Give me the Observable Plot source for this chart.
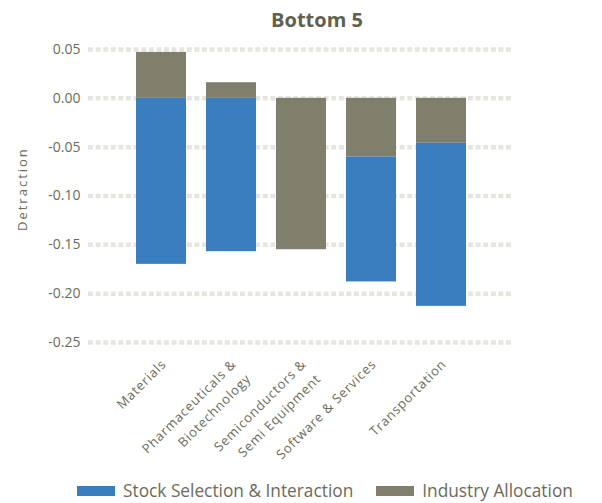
<!DOCTYPE html>
<html>
<head>
<meta charset="utf-8">
<script src="https://cdn.jsdelivr.net/npm/d3@7"></script>
<script src="https://cdn.jsdelivr.net/npm/@observablehq/plot@0.6"></script>
<style>
  html, body { margin: 0; padding: 0; background: #fff; }
  #wrap { position: relative; width: 602px; height: 503px; font-family: "Open Sans", sans-serif; overflow: hidden; }
  #title { position: absolute; top: 6px; left: 0; width: 634px; text-align: center; font-size: 20px; font-weight: bold; color: #5f604d; }
  #chart { position: absolute; top: 0; left: 0; }
  #legend { position: absolute; top: 479px; left: 77px; display: flex; align-items: center; font-size: 17.3px; color: #6b6b5a; white-space: nowrap; }
  .sw { width: 38px; height: 10px; display: inline-block; margin-right: 8px; }
  .item { display: flex; align-items: center; margin-right: 23px; }
</style>
</head>
<body>
<div id="wrap">
  <div id="chart"></div>
  <div id="title">Bottom 5</div>
  <div id="legend"></div>
</div>
<script>
const categories = ["Materials", "Pharmaceuticals & Biotechnology", "Semiconductors & Semi Equipment", "Software & Services", "Transportation"];
const categoryLabels = ["Materials", "Pharmaceuticals &\nBiotechnology", "Semiconductors &\nSemi Equipment", "Software & Services", "Transportation"];
const stockSelection = [-0.170, -0.157, 0.000, -0.128, -0.167];
const industryAllocation = [0.047, 0.016, -0.155, -0.060, -0.046];
const seriesNames = ["Stock Selection & Interaction", "Industry Allocation"];
const seriesColors = ["#3a7ec0", "#7f7f6b"];
const yTicks = [0.05, 0.00, -0.05, -0.10, -0.15, -0.20, -0.25];
const yTitle = "Detraction";

const rows = [];
categories.forEach((c, i) => rows.push({category: c, series: seriesNames[1], value: industryAllocation[i]}));
categories.forEach((c, i) => rows.push({category: c, series: seriesNames[0], value: stockSelection[i]}));

const labelRows = categories.map((c, i) => ({category: c, label: categoryLabels[i]}));

const chart = Plot.plot({
  width: 602,
  height: 503,
  marginLeft: 88,
  marginRight: 89,
  marginTop: 49,
  marginBottom: 161,
  style: {fontFamily: "Open Sans, sans-serif", color: "#6b6b5a", background: "transparent"},
  x: {domain: categories, range: [124.5, 477.5], paddingInner: 0.29, paddingOuter: 0.145, axis: null},
  y: {domain: [-0.25, 0.05], ticks: yTicks, axis: null},
  color: {domain: seriesNames, range: seriesColors},
  marks: [
    Plot.ruleY(yTicks, {stroke: "#e7e5df", strokeWidth: 4.5, strokeDasharray: "5,2.6"}),
    Plot.barY(rows, {x: "category", y: "value", fill: "series", order: null}),
    Plot.axisY(yTicks, {tickSize: 0, tickPadding: 8, tickFormat: d => d.toFixed(2), fontSize: 14, fill: "#6b6b5a", label: null}),
    Plot.text(labelRows, {x: "category", frameAnchor: "bottom", text: "label", rotate: -45, textAnchor: "end", lineAnchor: "top", dx: -5, dy: 12, fontSize: 13, fill: "#6b6b5a", lineHeight: 1.6}),
    Plot.text([yTitle], {frameAnchor: "left", text: d => d, rotate: -90, dx: -66, dy: 35, fontSize: 13, fill: "#6b6b5a"})
  ]
});
const textGroups = chart.querySelectorAll('g[aria-label="text"]');
if (textGroups[0]) textGroups[0].setAttribute("letter-spacing", "0.8px");
if (textGroups[1]) textGroups[1].setAttribute("letter-spacing", "2px");
document.getElementById("chart").appendChild(chart);

const legend = document.getElementById("legend");
seriesNames.forEach((s, i) => {
  const item = document.createElement("div");
  item.className = "item";
  const sw = document.createElement("span");
  sw.className = "sw";
  sw.style.background = seriesColors[i];
  item.appendChild(sw);
  item.appendChild(document.createTextNode(s));
  legend.appendChild(item);
});
</script>
</body>
</html>
